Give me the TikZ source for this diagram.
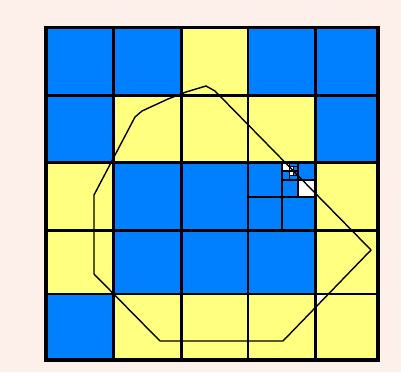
\documentclass[tikz,border=0pt]{standalone}
\usetikzlibrary{calc}
\definecolor{bgpink}{RGB}{253,240,234}
\definecolor{cellblue}{RGB}{0,128,255}
\definecolor{cellyellow}{RGB}{255,255,128}
\begin{document}
\begin{tikzpicture}[x=1pt,y=-1pt,
bluecell/.style={fill=cellblue},
yellowcell/.style={fill=cellyellow},
emptycell/.style={fill=white},
thinline/.style={line width=2pt},
thickline/.style={line width=3pt},
fineline/.style={line width=1.2pt},
border/.style={line width=3.6pt},
outline/.style={line width=1.4pt,line join=round}]
\fill[bgpink](0,0)rectangle(401,372);
\useasboundingbox(0,0)rectangle(401,372);
% grid points
\foreach \xv [count=\i from 0] in {46,113.3,181,248.3,315,378}
  \foreach \yv [count=\j from 0] in {27.3,95.7,162.7,230,294,360}
    \coordinate(g\i\j) at (\xv,\yv);
% cells, column/row/colour
\foreach \i/\j/\c [evaluate=\i as \ii using int(\i+1),evaluate=\j as \jj using int(\j+1)] in
  {0/0/bluecell,1/0/bluecell,2/0/yellowcell,3/0/bluecell,4/0/bluecell,
   0/1/bluecell,1/1/yellowcell,2/1/yellowcell,3/1/yellowcell,4/1/bluecell,
   0/2/yellowcell,1/2/bluecell,2/2/bluecell,3/2/bluecell,4/2/yellowcell,
   0/3/yellowcell,1/3/bluecell,2/3/bluecell,3/3/bluecell,4/3/yellowcell,
   0/4/bluecell,1/4/yellowcell,2/4/yellowcell,3/4/yellowcell,4/4/yellowcell}
  \path[\c](g\i\j)rectangle(g\ii\jj);
% refined cell
\path[emptycell](298,179.5)rectangle(315,196.5);
\path[emptycell](281.5,162.7)rectangle(289.7,171);
\path[emptycell](289.7,166.8)rectangle(293.8,171);
\path[emptycell](289.7,171)rectangle(293.8,175.2);
\path[emptycell](315,294)rectangle(322,301.5);
% polygon
\coordinate(p1) at (160,341);
\coordinate(p2) at (283,341);
\coordinate(p3) at (371,250);
\coordinate(p4) at (215,91);
\coordinate(p5) at (206,86);
\coordinate(p6) at (186,92);
\coordinate(p7) at (168,99);
\coordinate(p8) at (142,111);
\coordinate(p9) at (135,117);
\coordinate(p10) at (94,195);
\coordinate(p11) at (94,274);
\draw[outline](p1)--(p2)--(p3)--(p4)--(p5)--(p6)--(p7)--(p8)--(p9)--(p10)--(p11)--cycle;
% grid lines
\draw[thinline](g30)--(g35) (g04)--(g54);
\draw[thickline](g10)--(g15) (g20)--(g25) (g40)--(g45);
\draw[thickline](g01)--(g51) (g02)--(g52) (g03)--(g53);
\draw[thinline](281.5,162.7)--(281.5,230) (248.3,196.5)--(315,196.5);
\draw[thinline](298,162.7)--(298,196.5) (281.5,179.5)--(315,179.5);
\draw[fineline](289.7,162.7)--(289.7,179.5) (281.5,171)--(298,171);
\draw[fineline](293.8,166.8)--(293.8,175.2) (289.7,166.8)--(298,166.8) (289.7,175.2)--(298,175.2);
\draw[border](g00)rectangle(g55);
\end{tikzpicture}
\end{document}
